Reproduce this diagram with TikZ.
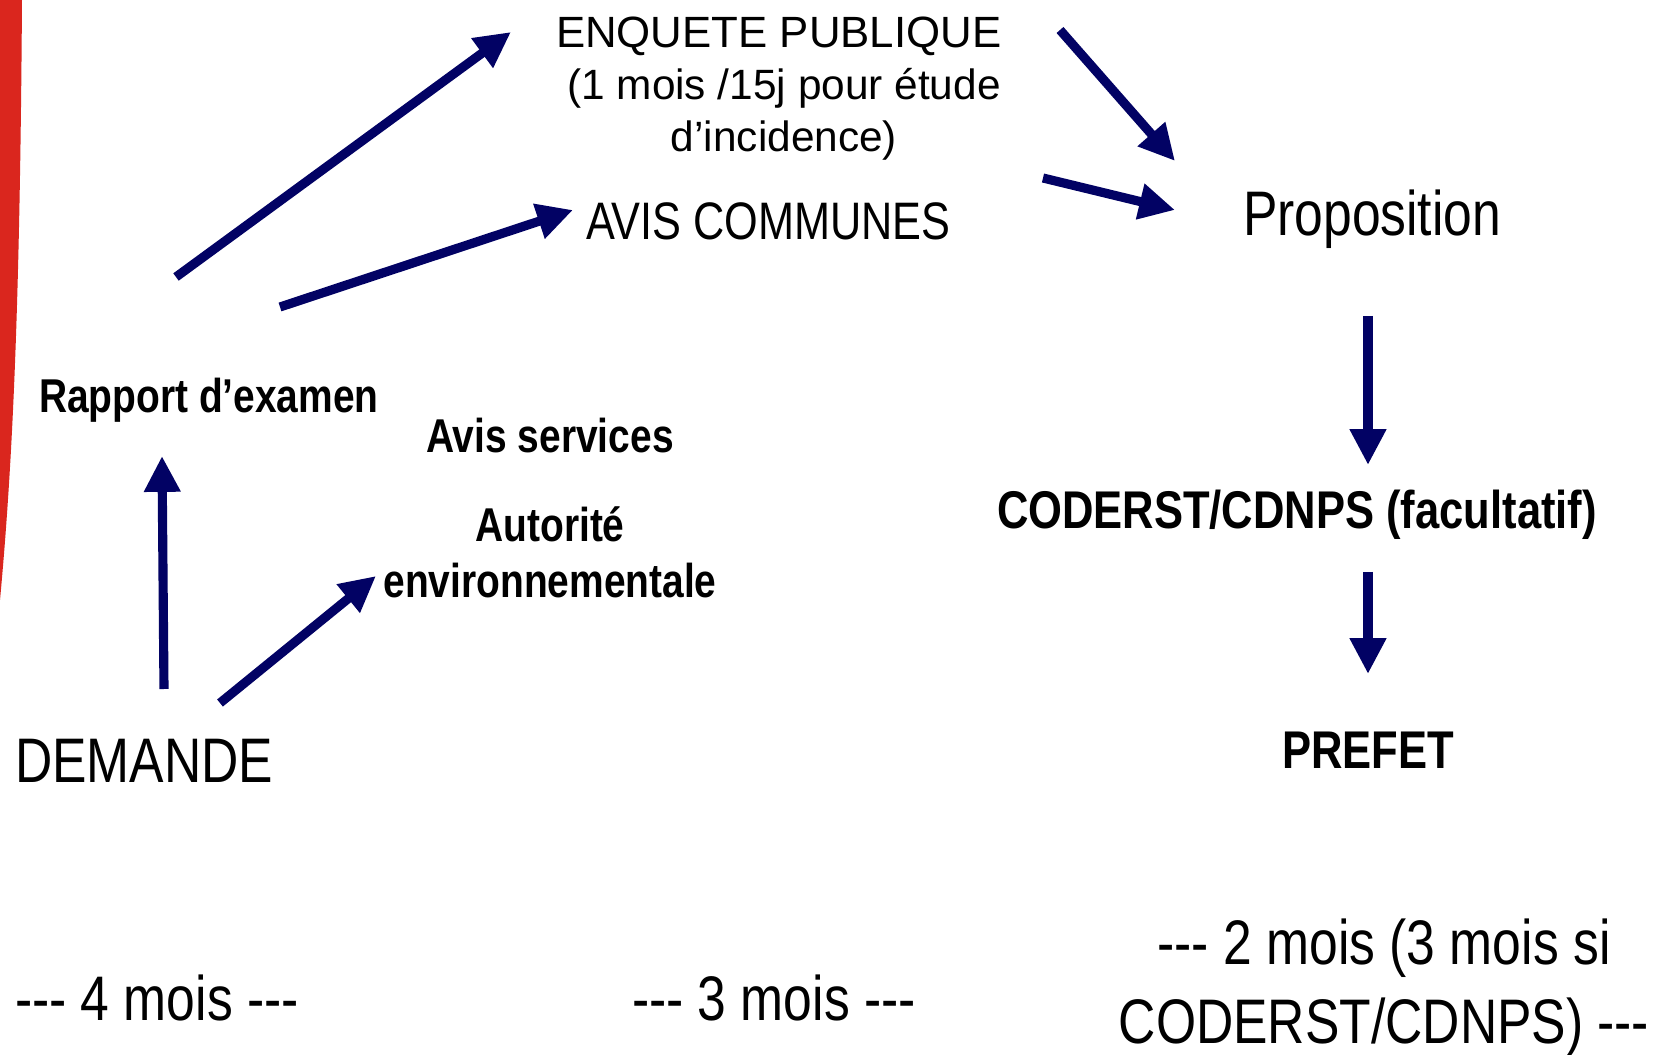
\documentclass[tikz,border=0pt]{standalone}
\usepackage{fontspec}
\setmainfont{Liberation Sans}
\newfontfamily\narrowfont{Liberation Sans}[FakeStretch=0.82]
\usetikzlibrary{arrows.meta}
\definecolor{navyarrow}{RGB}{2,2,100}
\definecolor{redband}{RGB}{218,38,30}
\tikzset{
  flow/.style={draw=navyarrow, line width=2.6pt, -{Triangle[length=10.2pt,width=9.8pt]}},
  lbl/.style={inner sep=0pt, outer sep=0pt, text=black},
  bignarrow/.style={lbl, font=\narrowfont\fontsize{17.9pt}{22.2pt}\selectfont},
  midnarrow/.style={lbl, font=\narrowfont\fontsize{15pt}{18pt}\selectfont},
  boldnarrow/.style={lbl, font=\narrowfont\bfseries\fontsize{13.5pt}{16.2pt}\selectfont},
  boldbig/.style={lbl, font=\narrowfont\bfseries\fontsize{15.1pt}{18pt}\selectfont},
}
\begin{document}
\begin{tikzpicture}[x=0.01cm,y=-0.01cm]
\useasboundingbox (0,0) rectangle (1669,1055);
\fill[white] (0,0) rectangle (1669,1055);
% red band at left
\fill[redband] (0,0) -- (22,0) .. controls (20,300) and (13,460) .. (0,600) -- cycle;

% texts (multi-line nodes are anchored on the baseline of their last line)
\node[lbl, anchor=base, align=center, font=\fontsize{12.05pt}{14.8pt}\selectfont] (enq) at (784,152)
  {\hspace*{-3pt}{\fontsize{12.45pt}{14.8pt}\selectfont ENQUETE PUBLIQUE}\\ (1 mois /15j pour étude\\ d’incidence)};
\node[midnarrow, anchor=base west] (avc) at (586,240) {AVIS COMMUNES};
\node[bignarrow, anchor=base west] (prop) at (1243,236) {Proposition};
\node[boldnarrow, anchor=base west] (rap) at (39,413) {Rapport d’examen};
\node[boldnarrow, anchor=base] (avs) at (550,453) {Avis services};
\node[boldnarrow, anchor=base, align=center] (aut) at (550,598) {Autorité\\environnementale};
\node[bignarrow, anchor=base west] (dem) at (15,782) {DEMANDE};
\node[boldbig, anchor=base west] (cod) at (997,529) {CODERST/CDNPS (facultatif)};
\node[boldbig, anchor=base] (pre) at (1368,768) {PREFET};
\node[bignarrow, anchor=base west] (m4) at (15,1020) {-{}-{}- 4 mois -{}-{}-};
\node[bignarrow, anchor=base west] (m3) at (632,1020) {-{}-{}- 3 mois -{}-{}-};
\node[bignarrow, anchor=base, align=center] (m2) at (1384,1043) {-{}-{}- 2 mois (3 mois si\\ CODERST/CDNPS) -{}-{}-};

% arrow end points
\coordinate (r1s) at (176,277);  \coordinate (r1e) at (511,32);
\coordinate (r2s) at (280,307);  \coordinate (r2e) at (573,210);
\coordinate (d1s) at (164,689);  \coordinate (d1e) at (162,456);
\coordinate (d2s) at (220,703);  \coordinate (d2e) at (376,576);
\coordinate (e1s) at (1060,30);  \coordinate (e1e) at (1175,161);
\coordinate (a1s) at (1043,178); \coordinate (a1e) at (1175,210);
\coordinate (p1s) at (1368,316); \coordinate (p1e) at (1368,465);
\coordinate (c1s) at (1368,572); \coordinate (c1e) at (1368,674);

\draw[flow] (r1s) -- (r1e);
\draw[flow] (r2s) -- (r2e);
\draw[flow] (d1s) -- (d1e);
\draw[flow] (d2s) -- (d2e);
\draw[flow] (e1s) -- (e1e);
\draw[flow] (a1s) -- (a1e);
\draw[flow] (p1s) -- (p1e);
\draw[flow] (c1s) -- (c1e);
\end{tikzpicture}
\end{document}
